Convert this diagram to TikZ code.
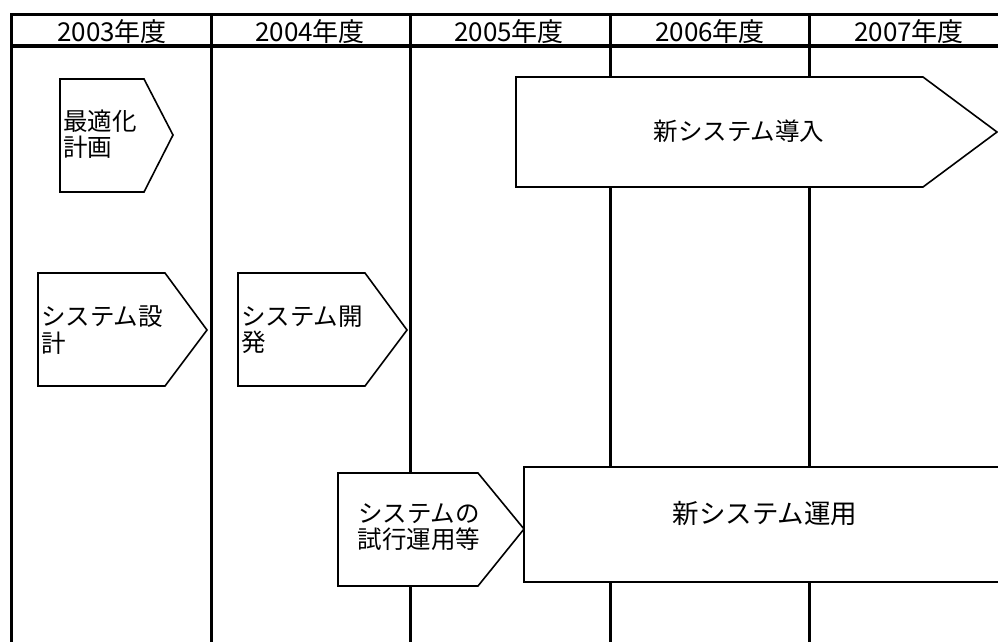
\documentclass[tikz,border=0pt]{standalone}
\usepackage{fontspec}
\setmainfont{Noto Sans CJK JP}
\begin{document}
\begin{tikzpicture}[x=1pt,y=-1pt,
  gridline/.style={line width=3pt,line cap=rect},
  phase/.style={draw,line width=1.6pt,fill=white,line join=miter},
  hdr/.style={font=\fontsize{26}{28}\selectfont,inner sep=0pt},
  lbl/.style={font=\fontsize{24.5}{26.5}\selectfont,inner sep=0pt,align=left},
  big/.style={font=\fontsize{26.5}{28}\selectfont,inner sep=0pt}]
\useasboundingbox (0,0) rectangle (998,642);
\clip (0,0) rectangle (998,642);
% grid
\draw[gridline] (1005,14.5) -- (11.5,14.5) -- (11.5,650);
\draw[gridline,line width=3.5pt] (11.5,46) -- (1005,46);
\foreach \x in {211,410.5,610,809.5}
  \draw[gridline] (\x,14.5) -- (\x,650);
% headers
\node[hdr] (h1) at (112,31.5) {2003年度};
\node[hdr] (h2) at (310,31.5) {2004年度};
\node[hdr] (h3) at (509,31.5) {2005年度};
\node[hdr] (h4) at (710,31.5) {2006年度};
\node[hdr] (h5) at (909,31.5) {2007年度};
% phases
\draw[phase] (60,79) -- (144,79) -- (173,135) -- (144,192) -- (60,192) -- cycle;
\node[lbl,anchor=west] (opt) at (63,134) {最適化\\計画};
\draw[phase] (38,273) -- (165,273) -- (207,330) -- (165,386) -- (38,386) -- cycle;
\node[lbl,anchor=west] (sd) at (41,330) {システム設\\計};
\draw[phase] (238,273) -- (365,273) -- (407,330) -- (365,386) -- (238,386) -- cycle;
\node[lbl,anchor=west] (sdev) at (241,330) {システム開\\発};
\draw[phase] (516,77) -- (923,77) -- (997,132) -- (923,187) -- (516,187) -- cycle;
\node[lbl] (intro) at (739,131) {新システム導入};
\draw[phase] (338,473) -- (478,473) -- (524,529) -- (478,586) -- (338,586) -- cycle;
\node[lbl,align=center] (trial) at (419,527) {システムの\\試行運用等};
\draw[phase] (524,467) rectangle (1005,582);
\node[big] (ops) at (765,514) {新システム運用};
\end{tikzpicture}
\end{document}
